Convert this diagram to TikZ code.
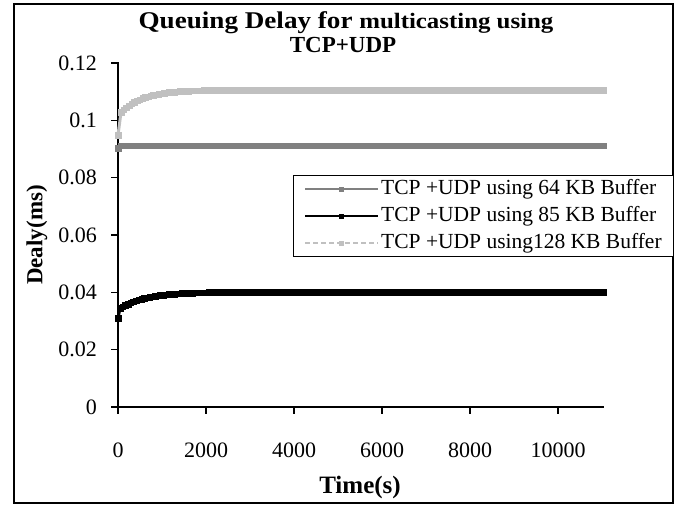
\documentclass[tikz,border=0pt]{standalone}
\usepackage{fontspec}
\setmainfont{Liberation Serif}
\usetikzlibrary{plotmarks}
\definecolor{seriesA}{RGB}{128,128,128}
\definecolor{seriesC}{RGB}{192,192,192}
\begin{document}
\begin{tikzpicture}[x=1pt,y=-1pt,
  axisline/.style={line width=1.6pt, line cap=rect},
  ticklabel/.style={font=\fontsize{22}{22}\selectfont, inner sep=0pt},
  axistitle/.style={font=\bfseries\fontsize{25}{25}\selectfont, inner sep=0pt},
  legendtext/.style={font=\fontsize{21.5}{21.5}\selectfont, anchor=west, inner sep=0pt},
  sqmark/.style={mark=square*, mark size=2.8pt, mark options={solid}},
  curve/.style={line width=3pt, line join=round}]
\useasboundingbox (0,0) rectangle (683,506);
% chart frame
\draw[line width=1.6pt] (14,4) rectangle (673,503);

% title
\node[font=\bfseries\fontsize{24}{24}\selectfont, inner sep=0pt] (title1) at (346,23)
  {\scalebox{1.13}[1]{Queuing Delay for {\fontsize{22}{24}\selectfont multicasting using}}};
\node[font=\bfseries\fontsize{23}{23}\selectfont, inner sep=0pt] (title2) at (343,45) {TCP+UDP};

% axes
\draw[axisline] (118,63) -- (118,407) -- (603,407);
\foreach \i/\lab in {0/0,1/0.02,2/0.04,3/0.06,4/0.08,5/0.1,6/0.12}{
  \draw[axisline] (112,{407-57.33*\i}) -- (118,{407-57.33*\i});
  \node[ticklabel, anchor=east] (yl\i) at (97,{407-57.33*\i}) {\lab};
}
\foreach \i/\lab in {0/0,1/2000,2/4000,3/6000,4/8000,5/10000}{
  \draw[axisline] ({118+88*\i},407) -- ({118+88*\i},413);
  \node[ticklabel] (xl\i) at ({118+88*\i},450) {\lab};
}
\node[axistitle] (xtitle) at (360,487) {Time(s)};
\node[axistitle, font=\bfseries\fontsize{23}{23}\selectfont, rotate=90] (ytitle) at (37,235) {Dealy(ms)};

% series: 64 KB buffer
\draw[seriesA, curve] (118,148) -- (121,145.5) -- (603,145.5);
\draw[seriesA, sqmark, only marks] plot coordinates {(118,148)};
\draw[seriesA, sqmark, only marks] plot[domain=3:485, samples=180] ({118+\x},145.5);

% series: 128 KB buffer
\draw[seriesC, curve] (118,135) -- plot[domain=3:485, samples=180] ({118+\x},{407-2866.5*(0.1106-0.009*exp(-\x/22))});
\draw[seriesC, sqmark, only marks] plot coordinates {(118,135)};
\draw[seriesC, sqmark, only marks] plot[domain=3:485, samples=180] ({118+\x},{407-2866.5*(0.1106-0.009*exp(-\x/22))});

% series: 85 KB buffer
\draw[black, curve] (118,318) -- plot[domain=2:485, samples=180] ({118+\x},{407-2866.5*(0.0401-0.0062*exp(-\x/25))});
\draw[black, sqmark, only marks] plot coordinates {(118,318)};
\draw[black, sqmark, only marks] plot[domain=2:485, samples=180] ({118+\x},{407-2866.5*(0.0401-0.0062*exp(-\x/25))});

% legend
\draw[line width=1pt, fill=white] (293,175) rectangle (673,256);
\draw[seriesA, line width=2pt] (305,189) -- (378,189);
\draw[seriesA, sqmark, mark size=2.3pt, only marks] plot coordinates {(341,189)};
\node[legendtext] (leg1) at (381,189) {TCP +UDP using 64 KB Buffer};
\draw[black, line width=2pt] (305,216) -- (378,216);
\draw[black, sqmark, mark size=2.3pt, only marks] plot coordinates {(341,216)};
\node[legendtext] (leg2) at (381,216) {TCP +UDP using 85 KB Buffer};
\draw[seriesC, line width=2pt, dash pattern=on 5pt off 3pt] (305,243) -- (378,243);
\draw[seriesC, sqmark, mark size=2.3pt, only marks] plot coordinates {(341,243)};
\node[legendtext] (leg3) at (381,243) {TCP +UDP using128 KB Buffer};
\end{tikzpicture}
\end{document}
